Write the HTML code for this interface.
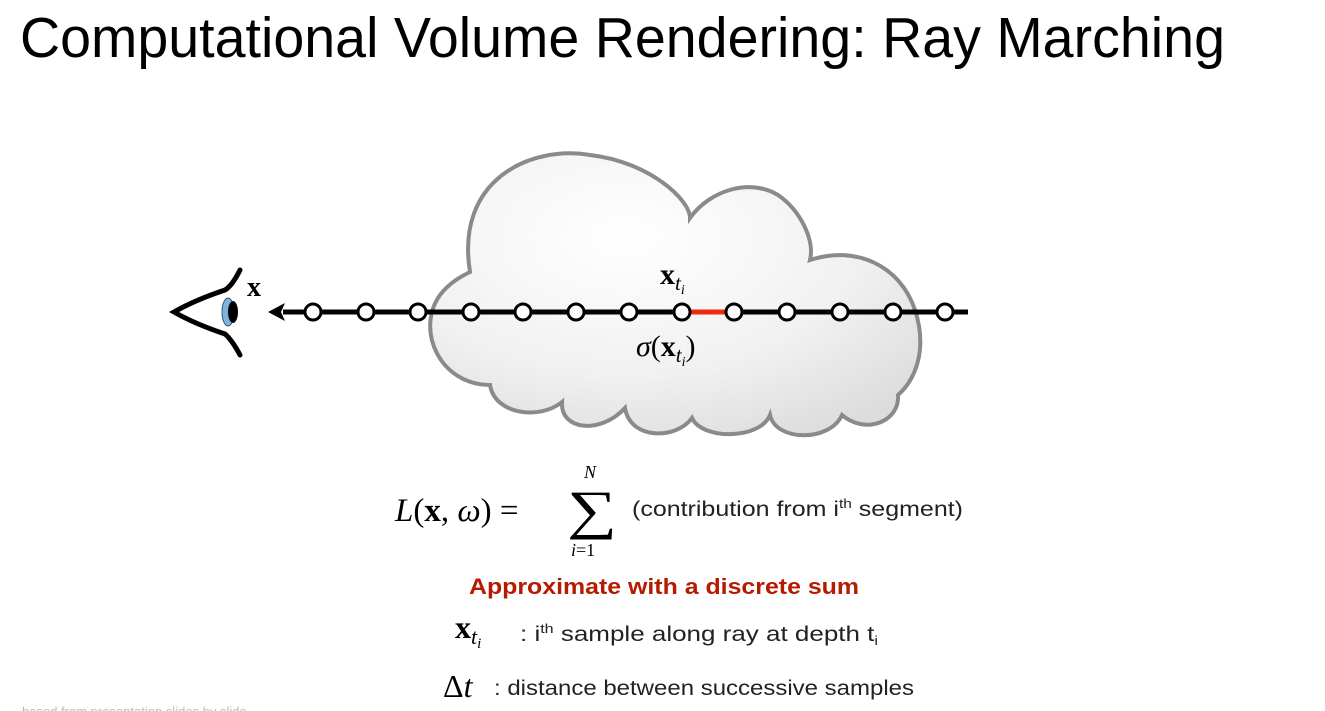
<!DOCTYPE html>
<html><head><meta charset="utf-8"><style>
html,body{margin:0;padding:0;background:#fff;width:1325px;height:711px;overflow:hidden}
svg{display:block}
</style></head><body>
<svg width="1325" height="711" viewBox="0 0 1325 711" xmlns="http://www.w3.org/2000/svg">
<defs>
<radialGradient id="cg" cx="0.4" cy="0.3" r="0.8">
<stop offset="0" stop-color="#ffffff"/><stop offset="0.6" stop-color="#f1f1f1"/><stop offset="1" stop-color="#dcdcdc"/>
</radialGradient>
</defs>
<text x="20" y="57" font-family="Liberation Sans, sans-serif" font-size="57" textLength="1205" lengthAdjust="spacingAndGlyphs" fill="#000">Computational Volume Rendering: Ray Marching</text>

<path d="M 490,385 C 440,385 415,330 440,295 C 450,282 462,276 470,272 C 455,180 530,145 590,155 C 650,162 690,200 690,218 C 710,190 750,178 778,195 C 800,210 815,240 810,260 C 855,245 900,265 915,310 C 928,350 915,380 898,395 C 900,422 865,435 842,415 C 830,442 776,442 770,415 C 760,440 702,440 692,418 C 676,440 630,440 625,408 C 600,435 560,430 562,402 C 540,420 495,415 490,385 Z" fill="url(#cg)" stroke="#8a8a8a" stroke-width="4"/>

<!-- eye -->
<path d="M 240,270 Q 232,286 225,290 Q 195,300 174,312 Q 195,324 225,334 Q 232,340 240,355" fill="none" stroke="#000" stroke-width="5" stroke-linecap="round"/>
<ellipse cx="228" cy="312" rx="6" ry="14" fill="#7fb3dd" stroke="#2a5a80" stroke-width="1"/>
<ellipse cx="233" cy="312" rx="5" ry="11" fill="#000"/>
<text x="247" y="296" font-family="Liberation Serif, serif" font-weight="bold" font-size="28">x</text>

<!-- ray -->
<line x1="283" y1="312" x2="968" y2="312" stroke="#000" stroke-width="5"/>
<path d="M 268,312 L 285,303 L 281,312 L 285,321 Z" fill="#000"/>
<line x1="688" y1="312" x2="728" y2="312" stroke="#ee2a10" stroke-width="5"/>
<g fill="#fff" stroke="#000" stroke-width="3">
<circle cx="313" cy="312" r="8"/><circle cx="366" cy="312" r="8"/><circle cx="418" cy="312" r="8"/>
<circle cx="471" cy="312" r="8"/><circle cx="523" cy="312" r="8"/><circle cx="576" cy="312" r="8"/>
<circle cx="629" cy="312" r="8"/><circle cx="682" cy="312" r="8"/><circle cx="734" cy="312" r="8"/>
<circle cx="787" cy="312" r="8"/><circle cx="840" cy="312" r="8"/><circle cx="893" cy="312" r="8"/>
<circle cx="945" cy="312" r="8"/>
</g>
<text x="660" y="284" font-family="Liberation Serif, serif" font-weight="bold" font-size="30">x<tspan font-weight="normal" font-style="italic" font-size="21" dy="6">t<tspan font-size="14" dy="4">i</tspan></tspan></text>
<text x="636" y="356" font-family="Liberation Serif, serif" font-size="30"><tspan font-style="italic">σ</tspan>(<tspan font-weight="bold">x</tspan><tspan font-style="italic" font-size="21" dy="6">t<tspan font-size="14" dy="4">i</tspan></tspan><tspan dy="-10">)</tspan></text>

<!-- formula -->
<text x="395" y="521" font-family="Liberation Serif, serif" font-size="33"><tspan font-style="italic">L</tspan>(<tspan font-weight="bold">x</tspan>, <tspan font-style="italic">ω</tspan>) =</text>
<text transform="translate(567,528) scale(1.3,1)" font-family="Liberation Serif, serif" font-size="54">∑</text>
<text x="584" y="478" font-family="Liberation Serif, serif" font-style="italic" font-size="18">N</text>
<text x="571" y="556" font-family="Liberation Serif, serif" font-size="18"><tspan font-style="italic">i</tspan>=1</text>
<text x="632" y="516" font-family="Liberation Sans, sans-serif" font-size="21" fill="#222" textLength="331" lengthAdjust="spacingAndGlyphs">(contribution from i<tspan font-size="13" dy="-8">th</tspan><tspan dy="8"> segment)</tspan></text>

<text x="664" y="594" text-anchor="middle" font-family="Liberation Sans, sans-serif" font-weight="bold" font-size="22" fill="#b51b00" textLength="390" lengthAdjust="spacingAndGlyphs">Approximate with a discrete sum</text>

<text x="455" y="638" font-family="Liberation Serif, serif" font-weight="bold" font-size="32">x<tspan font-weight="normal" font-style="italic" font-size="22" dy="6">t<tspan font-size="15" dy="4">i</tspan></tspan></text>
<text x="520" y="641" font-family="Liberation Sans, sans-serif" font-size="21" fill="#222" textLength="358" lengthAdjust="spacingAndGlyphs">: i<tspan font-size="13" dy="-8">th</tspan><tspan dy="8"> sample along ray at depth t</tspan><tspan font-size="13" dy="4">i</tspan></text>

<text x="443" y="697" font-family="Liberation Serif, serif" font-size="32">Δ<tspan font-style="italic">t</tspan></text>
<text x="494" y="695" font-family="Liberation Sans, sans-serif" font-size="21" fill="#222" textLength="420" lengthAdjust="spacingAndGlyphs">: distance between successive samples</text>

<text x="22" y="716" font-family="Liberation Sans, sans-serif" font-size="13" fill="#bbb">based from presentation slides by slide</text>
</svg>
</body></html>
